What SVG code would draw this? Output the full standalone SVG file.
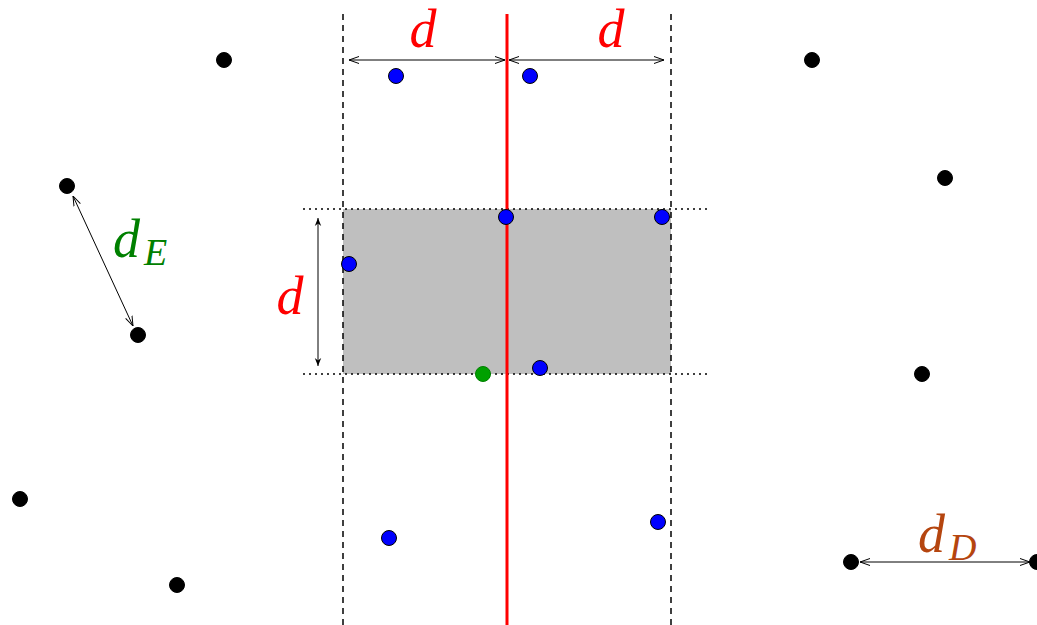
<svg xmlns="http://www.w3.org/2000/svg" width="1037" height="625" viewBox="0 0 1037 625">
<style>
.lbl{font-family:"Liberation Serif",serif;font-style:italic}
.red{fill:#ff0000}
.blk{fill:#000;stroke:#000;stroke-width:1}
.blu{fill:#0000ff;stroke:#000;stroke-width:1}
.dash{stroke:#000;stroke-width:1.5;stroke-dasharray:6,5;fill:none}
.dot{stroke:#000;stroke-width:1.5;stroke-dasharray:2,4;fill:none}
.arr{stroke:#000;stroke-width:1;fill:none;marker-start:url(#open);marker-end:url(#open)}
</style>
<defs>
<marker id="open" viewBox="0 0 10 10" refX="10" refY="5" markerWidth="10" markerHeight="10" markerUnits="userSpaceOnUse" orient="auto-start-reverse">
<path d="M0,1.5 L10,5 L0,8.5" fill="none" stroke="#000" stroke-width="1"/>
</marker>
<marker id="stealth" viewBox="0 0 10 10" refX="10" refY="5" markerWidth="8" markerHeight="8" markerUnits="userSpaceOnUse" orient="auto-start-reverse">
<path d="M0,1 L10,5 L0,9 L3,5 Z" fill="#000"/>
</marker>
</defs>
<g id="strip">
<rect x="343" y="209" width="328" height="165" fill="#bfbfbf"/>
<line class="dot" x1="303" y1="209" x2="709" y2="209"/>
<line class="dot" x1="303" y1="374" x2="709" y2="374"/>
<line class="dash" x1="343" y1="14" x2="343" y2="625"/>
<line class="dash" x1="671" y1="14" x2="671" y2="625"/>
<line x1="507" y1="14" x2="507" y2="625" stroke="#ff0000" stroke-width="3"/>
</g>
<g id="connectors">
<line class="arr" x1="349" y1="60" x2="505" y2="60"/>
<line class="arr" x1="509" y1="60" x2="664" y2="60"/>
<line x1="318" y1="218" x2="318" y2="366" stroke="#000" stroke-width="1" marker-start="url(#stealth)" marker-end="url(#stealth)"/>
<line class="arr" x1="73" y1="196" x2="133" y2="326"/>
<line class="arr" x1="860" y1="562" x2="1030" y2="562"/>
</g>
<g id="labels">
<text class="lbl red" x="423" y="47" font-size="54" text-anchor="middle">d</text>
<text class="lbl red" x="611" y="47" font-size="54" text-anchor="middle">d</text>
<text class="lbl red" x="290" y="314" font-size="54" text-anchor="middle">d</text>
<text class="lbl" x="113" y="257" font-size="54" fill="#008000">d<tspan font-size="38" dx="4" dy="8">E</tspan></text>
<text class="lbl" x="918" y="552" font-size="54" fill="#b5450f">d<tspan font-size="38" dx="4" dy="8">D</tspan></text>
</g>
<g id="blue-points">
<circle class="blu" cx="396" cy="76" r="7.5"/>
<circle class="blu" cx="530" cy="76" r="7.5"/>
<circle class="blu" cx="506" cy="217" r="7.5"/>
<circle class="blu" cx="662" cy="217" r="7.5"/>
<circle class="blu" cx="349" cy="264" r="7.5"/>
<circle class="blu" cx="540" cy="368" r="7.5"/>
<circle class="blu" cx="389" cy="538" r="7.5"/>
<circle class="blu" cx="658" cy="522" r="7.5"/>
</g>
<g id="green-point">
<circle cx="483" cy="374" r="7.5" fill="#00a000" stroke="#008000" stroke-width="1"/>
</g>
<g id="black-points">
<circle class="blk" cx="224" cy="60" r="7.5"/>
<circle class="blk" cx="67" cy="186" r="7.5"/>
<circle class="blk" cx="138" cy="335" r="7.5"/>
<circle class="blk" cx="20" cy="499" r="7.5"/>
<circle class="blk" cx="177" cy="585" r="7.5"/>
<circle class="blk" cx="812" cy="60" r="7.5"/>
<circle class="blk" cx="945" cy="178" r="7.5"/>
<circle class="blk" cx="922" cy="374" r="7.5"/>
<circle class="blk" cx="851" cy="562" r="7.5"/>
<circle class="blk" cx="1037" cy="562" r="7.5"/>
</g>
</svg>
